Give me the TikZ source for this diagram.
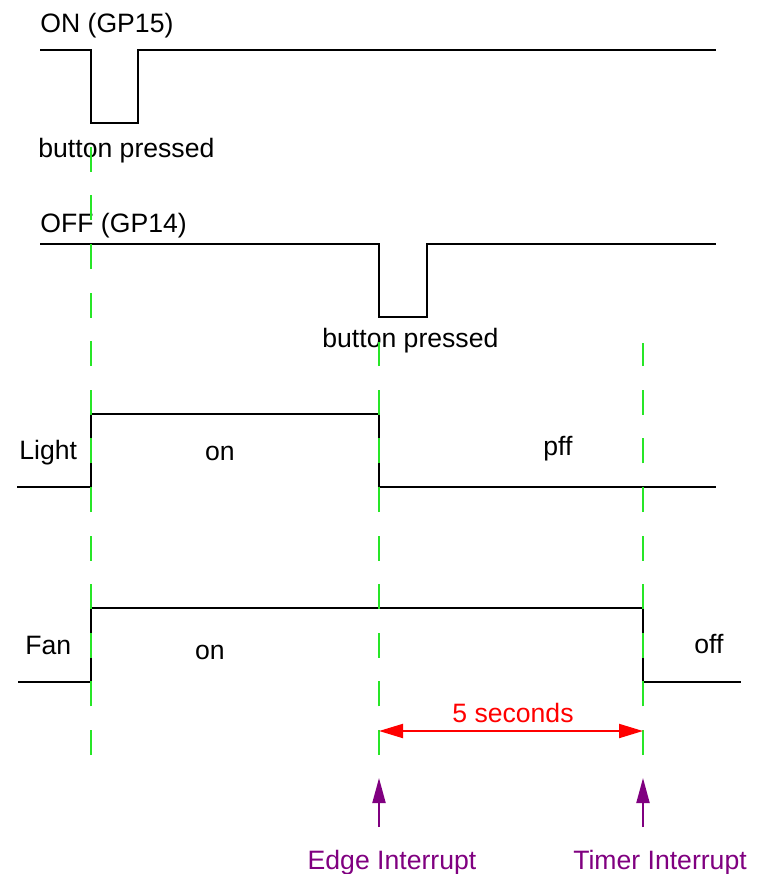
\documentclass[tikz,border=0pt]{standalone}
\usepackage{fontspec}
\setmainfont{Liberation Sans}
\usetikzlibrary{arrows.meta}
\definecolor{gridgreen}{RGB}{40,230,40}
\definecolor{intpurple}{RGB}{128,0,128}
\begin{document}
\begin{tikzpicture}[x=0.5pt,y=-0.5pt,
  lbl/.style={inner sep=0pt,font=\fontsize{13.3}{16}\selectfont},
  signal/.style={draw=black,line width=1pt,line join=miter},
  guide/.style={draw=gridgreen,line width=1pt,dash pattern=on 12.5pt off 11.8pt},
  span/.style={draw=red,line width=1pt,{Triangle[length=12pt,width=7pt]}-{Triangle[length=12pt,width=7pt]}},
  irq/.style={draw=intpurple,line width=1pt,-{Triangle[length=12.5pt,width=6.5pt]}}]
\useasboundingbox (0,0) rectangle (759,874);
% labels
\node[lbl,anchor=base west] (on) at (40,32) {ON (GP15)};
\node[lbl,anchor=base west] (bp1) at (38,157) {button pressed};
\node[lbl,anchor=base west] (off) at (40,232) {OFF (GP14)};
\node[lbl,anchor=base west] (bp2) at (322,347) {button pressed};
\node[lbl,anchor=base west] (light) at (19,459) {Light};
\node[lbl,anchor=base] (lon) at (220,460) {on};
\node[lbl,anchor=base] (loff) at (558,455) {pff};
\node[lbl,anchor=base west] (fan) at (25,654) {Fan};
\node[lbl,anchor=base] (fon) at (210,659) {on};
\node[lbl,anchor=base] (foff) at (709,653) {off};
\node[lbl,anchor=base,text=red] (sec) at (513,722) {5 seconds};
\node[lbl,anchor=base,text=intpurple] (edge) at (392,869) {Edge Interrupt};
\node[lbl,anchor=base,text=intpurple] (timer) at (660,869) {Timer Interrupt};
% signals
\draw[signal] (40,50) -- (91,50) -- (91,123) -- (138,123) -- (138,50) -- (716,50);
\draw[signal] (40,244) -- (379,244) -- (379,317) -- (427,317) -- (427,244) -- (716,244);
\draw[signal] (17,487) -- (91,487) -- (91,414) -- (379,414) -- (379,487) -- (716,487);
\draw[signal] (18,682) -- (91,682) -- (91,608) -- (643,608) -- (643,682) -- (741,682);
% guides
\coordinate (g1b) at (91,755); \coordinate (g1t) at (91,147);
\coordinate (g2b) at (379,755); \coordinate (g2t) at (379,342);
\coordinate (g3b) at (643,755); \coordinate (g3t) at (643,343);
\draw[guide] (g1b) -- (g1t);
\draw[guide] (g2b) -- (g2t);
\draw[guide] (g3b) -- (g3t);
% span arrow
\coordinate (sl) at (379,731); \coordinate (sr) at (643,731);
\draw[span] (sl) -- (sr);
% interrupt arrows
\coordinate (e0) at (379,827); \coordinate (e1) at (379,778);
\coordinate (t0) at (643,827); \coordinate (t1) at (643,778);
\draw[irq] (e0) -- (e1);
\draw[irq] (t0) -- (t1);
\end{tikzpicture}
\end{document}
